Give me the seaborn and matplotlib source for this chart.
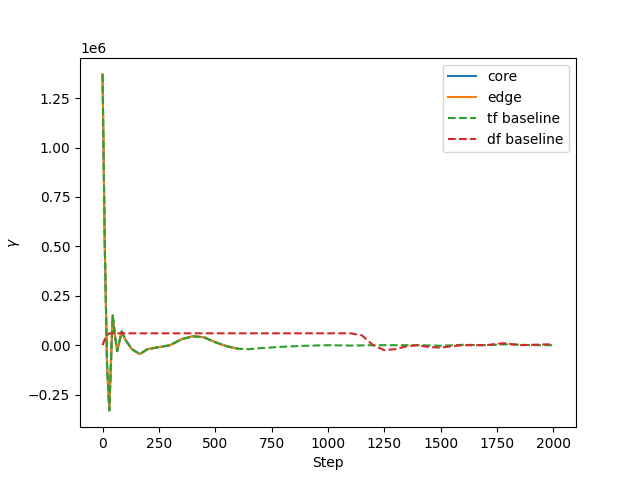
import numpy as np
import pandas as pd
import matplotlib
matplotlib.use("Agg")
import matplotlib.pyplot as plt
import seaborn as sns

# pasos y valores (unidades de 1e6)
tf_steps = [0, 10, 20, 30, 40, 45, 55, 65, 75, 85, 100, 130, 165, 200, 250, 300, 350, 400,
            450, 500, 550, 600, 650, 700, 800, 900, 1000, 1100, 1200, 1300, 1400, 1500,
            1600, 1700, 1800, 1900, 2000]
tf_vals = [1.37, 0.5, -0.1, -0.33, 0.0, 0.15, 0.05, -0.03, 0.02, 0.07, 0.03, -0.02, -0.045,
           -0.02, -0.01, 0.0, 0.03, 0.045, 0.04, 0.015, -0.005, -0.018, -0.02, -0.015,
           -0.008, -0.003, 0.0, -0.002, 0.0, 0.0, 0.0, -0.003, 0.002, 0.0, 0.005, 0.0, 0.0]

df_steps = [0, 10, 20, 30, 100, 500, 1000, 1100, 1150, 1200, 1250, 1300, 1350, 1400, 1450,
            1500, 1550, 1600, 1700, 1780, 1850, 2000]
df_vals = [0.0, 0.03, 0.05, 0.06, 0.06, 0.06, 0.06, 0.06, 0.05, 0.0, -0.025, -0.02, -0.005,
           0.0, -0.01, -0.012, -0.005, 0.0, 0.0, 0.01, 0.0, 0.005]

core_steps = tf_steps[:22]
core_vals = tf_vals[:22]

fig, ax = plt.subplots(figsize=(6.4, 4.8), dpi=100)

sns.lineplot(x=core_steps, y=np.array(core_vals) * 1e6, ax=ax, label="core", color="C0")
sns.lineplot(x=core_steps, y=np.array(core_vals) * 1e6, ax=ax, label="edge", color="C1")
sns.lineplot(x=tf_steps, y=np.array(tf_vals) * 1e6, ax=ax, label="tf baseline",
             color="C2", linestyle="--")
sns.lineplot(x=df_steps, y=np.array(df_vals) * 1e6, ax=ax, label="df baseline",
             color="C3", linestyle="--")

ax.set_xlabel("Step")
ax.set_ylabel(r"$\gamma$")
ax.legend(loc="upper right")

plt.savefig("out.png")
